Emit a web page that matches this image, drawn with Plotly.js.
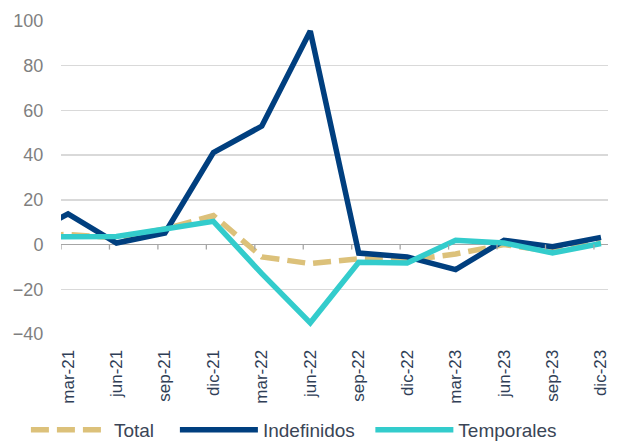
<!DOCTYPE html>
<html>
<head>
<meta charset="utf-8">
<script src="https://cdn.plot.ly/plotly-3.0.1.min.js"></script>
<style>html,body{margin:0;padding:0;background:#fff;}#chart{width:617px;height:441px;}</style>
</head>
<body>
<div id="chart"></div>
<script>
// Quarterly categories (first one, dic-20, lies just outside the visible range)
var categories = ["dic-20","mar-21","jun-21","sep-21","dic-21","mar-22","jun-22","sep-22","dic-22","mar-23","jun-23","sep-23","dic-23"];
var tickLabels = ["mar-21","jun-21","sep-21","dic-21","mar-22","jun-22","sep-22","dic-22","mar-23","jun-23","sep-23","dic-23"];
var seriesNames = ["Total","Indefinidos","Temporales"];
var total      = [4, 4.5, 3, 7, 13, -5.5, -8.5, -6.4, -7, -4.2, 0, -3, 1];
var indefinidos= [2, 13.7, 0.7, 5.2, 41.2, 53, 95.5, -3.8, -5.5, -11.2, 1.9, -1, 3.2];
var temporales = [3.5, 3.3, 3.6, 7, 10.4, -13, -35, -7.9, -8.2, 1.9, 0.7, -3.7, 0.5];

var xs = categories.map(function(c, i){ return i - 1; });

var traces = [
  {x: xs, y: total, name: seriesNames[0] + "\u00a0\u00a0\u00a0", type: "scatter", mode: "lines",
   line: {color: "#DCC17A", width: 5.5, dash: "18px,8px"}},
  {x: xs, y: indefinidos, name: seriesNames[1] + "\u00a0\u00a0", type: "scatter", mode: "lines",
   line: {color: "#003F7F", width: 5.5}},
  {x: xs, y: temporales, name: seriesNames[2], type: "scatter", mode: "lines",
   line: {color: "#33CCCC", width: 5.5}}
];

var off = 0.145;
var shapes = tickLabels.map(function(t, i){
  return {type: "line", xref: "x", yref: "y", ysizemode: "pixel", yanchor: 0,
          x0: i - off, x1: i - off, y0: 0, y1: -5,
          line: {color: "#a6a6a6", width: 1.3}};
});

var layout = {
  width: 617, height: 441,
  margin: {l: 61, r: 9, t: 21, b: 107},
  paper_bgcolor: "#ffffff", plot_bgcolor: "#ffffff",
  font: {family: "Liberation Sans, Arial, sans-serif", size: 17, color: "#7f7f7f"},
  showlegend: true,
  xaxis: {
    automargin: false,
    range: [-off, 11 + off],
    tickmode: "array",
    tickvals: tickLabels.map(function(t, i){ return i; }),
    ticktext: tickLabels,
    tickangle: -90,
    showgrid: false, zeroline: false, showline: false,
    ticks: "outside", ticklen: 8, tickcolor: "rgba(0,0,0,0)",
    tickfont: {color: "#2f3e56", size: 17}
  },
  yaxis: {
    automargin: false,
    range: [-40, 100],
    dtick: 20,
    showgrid: true, gridcolor: "#d9d9d9", gridwidth: 1.3,
    zeroline: true, zerolinecolor: "#a6a6a6", zerolinewidth: 1.3,
    showline: false,
    ticks: "outside", ticklen: 13, tickcolor: "rgba(0,0,0,0)",
    tickfont: {color: "#7f7f7f", size: 18}
  },
  legend: {
    orientation: "h", xref: "container", yref: "container",
    x: 0.042, xanchor: "left", y: 0.025, yanchor: "middle",
    itemwidth: 78, font: {color: "#3a4556", size: 19},
    traceorder: "normal", bgcolor: "rgba(0,0,0,0)"
  },
  shapes: shapes
};

Plotly.newPlot("chart", traces, layout, {displayModeBar: false, staticPlot: true});
</script>
</body>
</html>
